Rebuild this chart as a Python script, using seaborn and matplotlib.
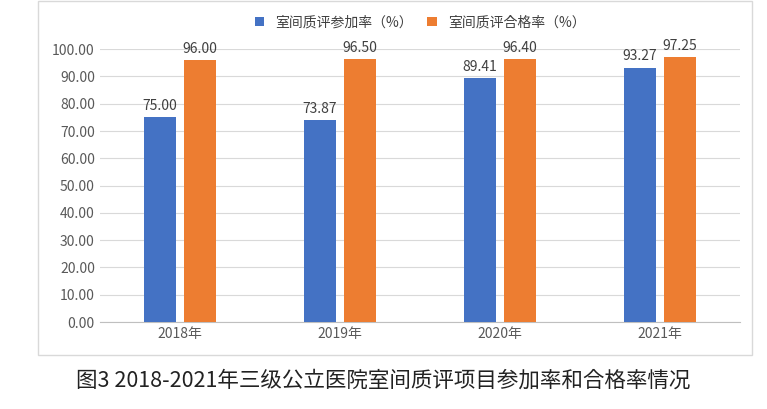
import pandas as pd
import seaborn as sns
import matplotlib.pyplot as plt
from matplotlib.patches import Rectangle

plt.rcParams['font.family'] = ['Noto Sans CJK JP', 'Noto Sans CJK SC', 'DejaVu Sans']

years = ['2018年', '2019年', '2020年', '2021年']
participation = [75.00, 73.87, 89.41, 93.27]
pass_rate = [96.00, 96.50, 96.40, 97.25]
series = ['室间质评参加率（%）', '室间质评合格率（%）']

df = pd.DataFrame({
    'year': years * 2,
    'value': participation + pass_rate,
    'series': [series[0]] * 4 + [series[1]] * 4,
})

fig = plt.figure(figsize=(7.67, 4.09), dpi=100)
ax = fig.add_axes([0.130, 0.2127, 0.835, 0.667])

sns.barplot(data=df, x='year', y='value', hue='series', ax=ax, saturation=1,
            palette=['#4472C4', '#ED7D31'], width=0.5, gap=0.2, zorder=3)

for c in ax.containers:
    ax.bar_label(c, fmt='%.2f', padding=3, fontsize=10, color='#404040')

ax.set_ylim(0, 100)
ax.set_yticks(range(0, 101, 10))
ax.set_yticklabels([f'{v:.2f}' for v in range(0, 101, 10)])
ax.tick_params(axis='both', length=0, labelsize=10, colors='#595959')
ax.set_xlabel('')
ax.set_ylabel('')
ax.grid(axis='y', color='#D9D9D9', linewidth=0.8, zorder=0)
for s in ['top', 'right', 'left']:
    ax.spines[s].set_visible(False)
ax.spines['bottom'].set_color('#BFBFBF')

ax.legend(loc='upper center', bbox_to_anchor=(0.5, 1.17), ncol=2, frameon=False,
          fontsize=10, handlelength=0.7, handleheight=0.7, columnspacing=1.0,
          labelcolor='#404040')

fig.patches.append(Rectangle((38 / 767, 1 - 355 / 409), 714 / 767, 354 / 409,
                             transform=fig.transFigure, fill=False,
                             edgecolor='#D9D9D9', linewidth=1))

fig.text(0.5, 1 - 381 / 409, '图3 2018-2021年三级公立医院室间质评项目参加率和合格率情况',
         ha='center', va='center', fontsize=15.5, color='#222222')

plt.savefig('out.png')
